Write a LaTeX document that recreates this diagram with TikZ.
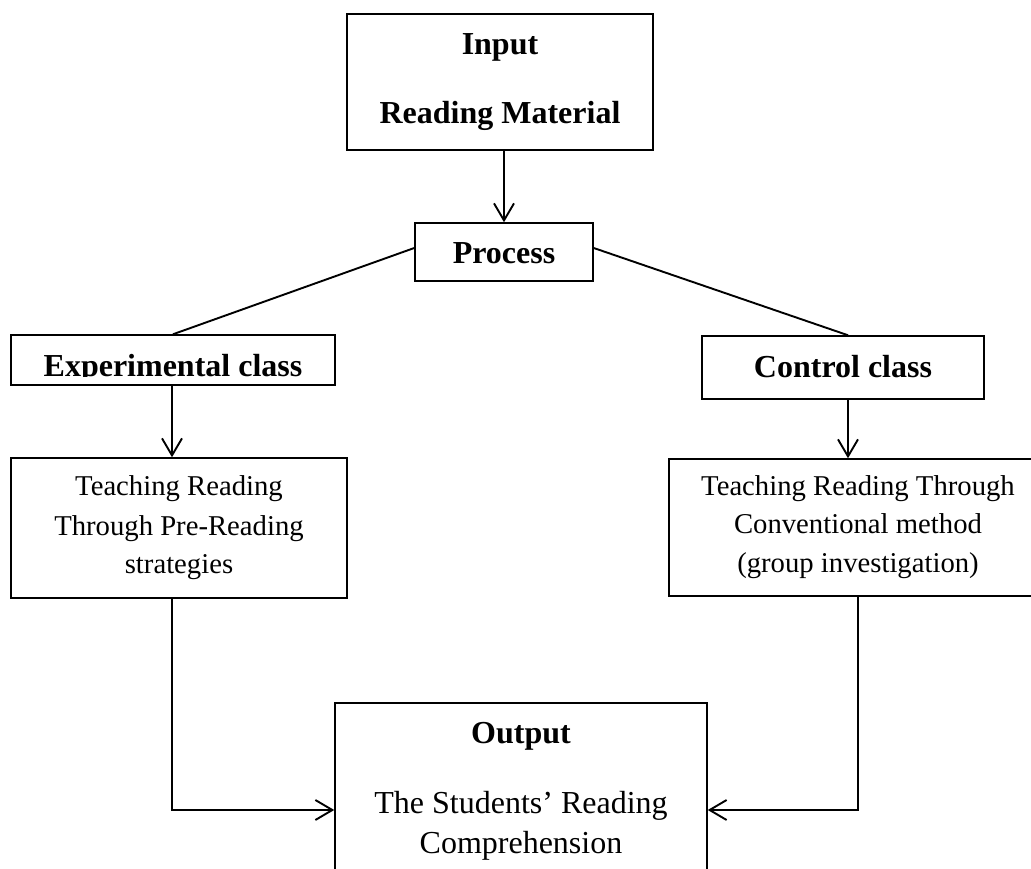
\documentclass[tikz,border=0pt]{standalone}
\usepackage{fontspec}
\setmainfont{Liberation Serif}
\usetikzlibrary{arrows.meta}
\tikzset{
  box/.style={draw, rectangle, line width=1.5pt, inner sep=0pt, fill=none},
  conn/.style={line width=1.9pt},
  arr/.style={conn, -{Straight Barb[length=17pt,width=20pt,line width=1.9pt]}},
  boldtxt/.style={anchor=base, inner sep=0pt, font=\fontsize{32}{40}\selectfont\bfseries},
  regtxt/.style={anchor=base, inner sep=0pt, font=\fontsize{28.7}{39}\selectfont},
  outtxt/.style={anchor=base, inner sep=0pt, font=\fontsize{32}{40}\selectfont},
}
\begin{document}
\begin{tikzpicture}[x=1pt,y=-1pt]
\useasboundingbox (0,0) rectangle (1031,869);
\clip (0,0) rectangle (1031,869);
\fill[white] (0,0) rectangle (1031,869);

% boxes
\node[box, minimum width=306pt, minimum height=136pt] (inp) at (500,82) {};
\node[box, minimum width=178pt, minimum height=58pt] (proc) at (504,252) {};
\node[box, minimum width=324pt, minimum height=50pt] (exp) at (173,360) {};
\node[box, minimum width=282pt, minimum height=63pt] (ctl) at (843,367.5) {};
\node[box, minimum width=336pt, minimum height=140pt] (tl) at (179,528) {};
\node[box, minimum width=378pt, minimum height=137pt] (tr) at (858,527.5) {};
\node[box, minimum width=372pt, minimum height=214pt] (out) at (521,810) {};

% texts
\node[boldtxt] (tInput) at (500,55) {Input};
\node[boldtxt] (tRM) at (500,124) {Reading Material};
\node[boldtxt] (tProc) at (504,263) {Process};
\begin{scope}
  \clip (11,335) rectangle (335,376.5);
  \node[boldtxt] (tExp) at (173,376) {Experimental class};
\end{scope}
\node[boldtxt] (tCtl) at (843,377) {Control class};

\node[regtxt] (tl1) at (179,495) {Teaching Reading};
\node[regtxt] (tl2) at (179,535) {Through Pre-Reading};
\node[regtxt] (tl3) at (179,573) {strategies};

\node[regtxt] (tr1) at (858,495) {Teaching Reading Through};
\node[regtxt] (tr2) at (858,533) {Conventional method};
\node[regtxt] (tr3) at (858,572) {(group investigation)};

\node[boldtxt] (tOut) at (521,743) {Output};
\node[outtxt] (to1) at (521,813) {The Students’ Reading};
\node[outtxt] (to2) at (521,853) {Comprehension};

% connectors
\draw[arr] (proc.north |- inp.south) -- (proc.north);
\draw[conn] ([yshift=4pt]proc.west) -- (exp.north);
\draw[conn] ([yshift=4pt]proc.east) -- ([xshift=5pt]ctl.north);
\draw[arr] ([xshift=-1pt]exp.south) -- ([xshift=-1pt]exp.south |- tl.north);
\draw[arr] ([xshift=5pt]ctl.south) -- ([xshift=5pt]ctl.south |- tr.north);
\draw[arr] ([xshift=-1pt]exp.south |- tl.south) |- (out.west);
\draw[arr] (tr.south) |- (out.east);
\end{tikzpicture}
\end{document}
